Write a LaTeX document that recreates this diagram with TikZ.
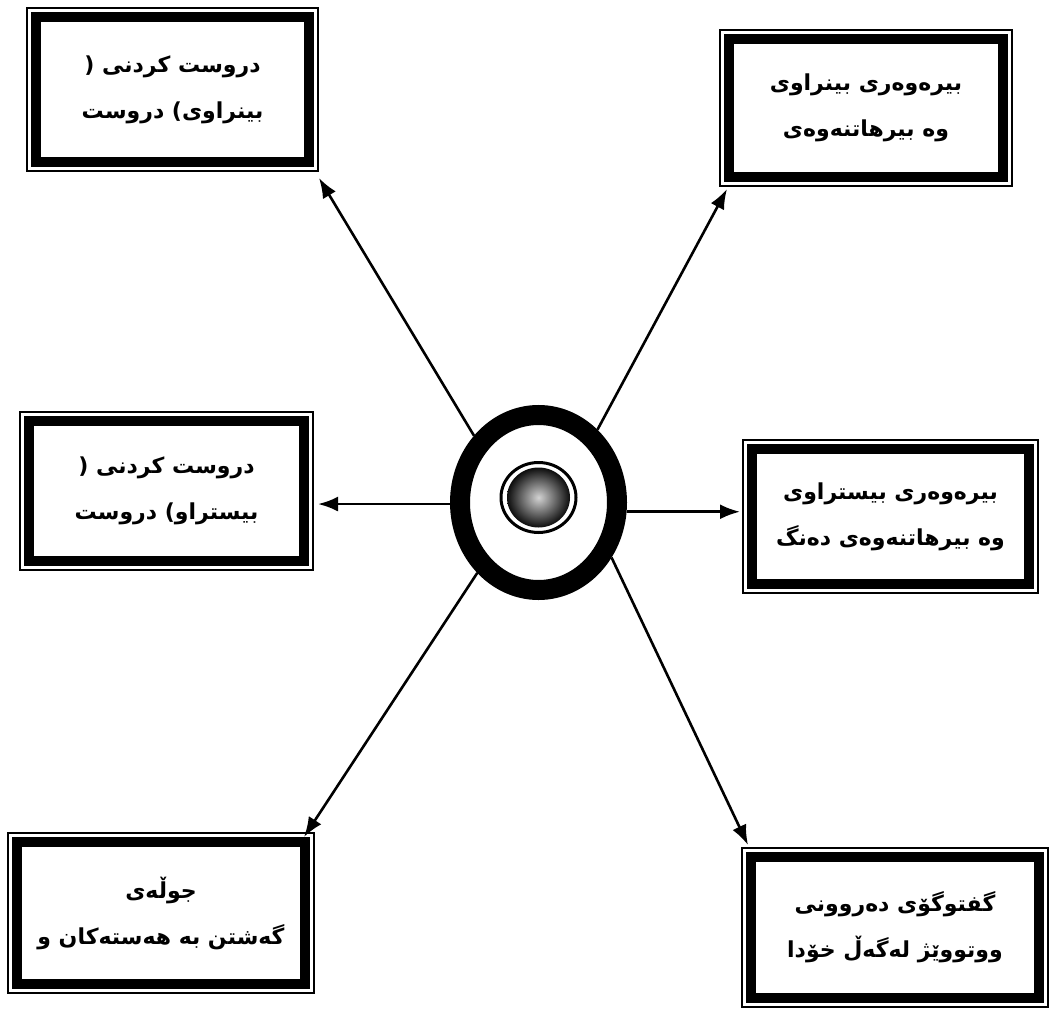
\documentclass[tikz,border=0pt]{standalone}
\usepackage{fontspec}
\newfontfamily\arabicfont[Script=Arabic]{DejaVu Sans}
\TeXXeTstate=1
\usetikzlibrary{shapes.geometric,arrows.meta}
\begin{document}
\begin{tikzpicture}[x=1pt,y=-1pt,
  frame/.style={draw, line width=2.2pt, outer sep=0pt, inner sep=0pt, rectangle, align=center,
    font=\arabicfont\bfseries\fontsize{22}{46}\selectfont},
  conn/.style={line width=2.6pt, -{Latex[length=20pt,width=15pt]}},
  ring/.style={ellipse, draw, inner sep=0pt}
  ]
\fill[white] (0,0) rectangle (1055,1011);
\useasboundingbox (0,0) rectangle (1055,1011);

\node[frame, minimum width=291pt, minimum height=163pt] (tl) at (172.5,89.5)
  {\beginR دروست کردنی (\endR\\\beginR بینراوی) دروست\endR};
\node[frame, minimum width=292pt, minimum height=156pt] (tr) at (866,108)
  {\beginR بیرەوەری بینراوی\endR\\\beginR وە بیرهاتنەوەی\endR};
\node[frame, minimum width=293pt, minimum height=158pt] (ml) at (166.5,491)
  {\beginR دروست کردنی (\endR\\\beginR بیستراو) دروست\endR};
\node[frame, minimum width=295pt, minimum height=153pt] (mr) at (890.5,516.5)
  {\beginR بیرەوەری بیستراوی\endR\\\beginR وە بیرهاتنەوەی دەنگ\endR};
\node[frame, minimum width=306pt, minimum height=160pt] (bl) at (161,913)
  {\beginR جوڵەی\endR\\\beginR گەشتن بە هەستەکان و\endR};
\node[frame, minimum width=306pt, minimum height=159pt] (br) at (895,927.5)
  {\beginR گفتوگۆی دەروونی\endR\\\beginR ووتووێژ لەگەڵ خۆدا\endR};

\foreach \b in {tl,tr,ml,mr,bl,br}
  \draw[line width=10pt] ([shift={(9,9)}]\b.north west) rectangle ([shift={(-9,-9)}]\b.south east);

\node[ring, line width=20pt, minimum width=157pt, minimum height=175pt, outer sep=10pt] (c) at (538.5,502.5) {};
\node[ring, line width=3pt, minimum width=75pt, minimum height=70pt] (ci) at (538.5,497.5) {};
\node[ellipse, inner sep=0pt, inner color=gray!35, outer color=black!95, minimum width=63pt, minimum height=60pt] (cd) at (538.5,497.5) {};

\draw[conn] (c.134) -- ([shift={(1,7)}]tl.south east);
\draw[conn] (c.51.6) -- ([shift={(7,3)}]tr.south west);
\draw[conn] (c.181) -- ([xshift=5pt]ml.east |- c.181);
\draw[conn] (c.-6) -- ([xshift=-3pt]mr.west |- c.-6);
\draw[conn] (c.229.5) -- ([shift={(-10,4)}]bl.north east);
\draw[conn] (c.323) -- ([shift={(6,-3)}]br.north west);
\end{tikzpicture}
\end{document}
